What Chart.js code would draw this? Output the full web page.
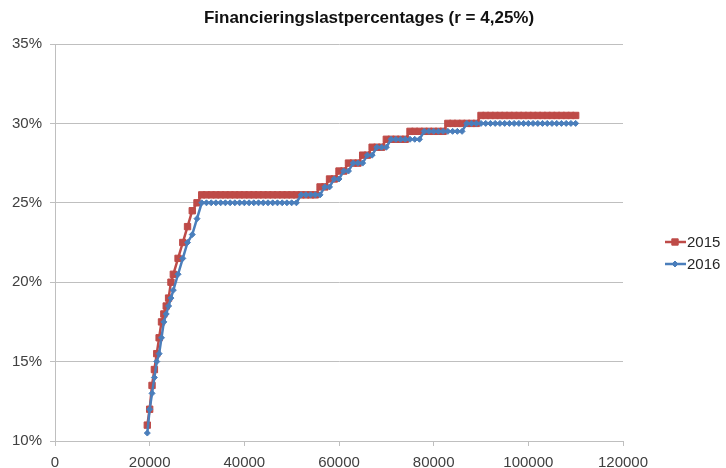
<!DOCTYPE html>
<html>
<head>
<meta charset="utf-8">
<script src="https://cdn.jsdelivr.net/npm/chart.js@4/dist/chart.umd.min.js"></script>
<style>
  html, body { margin: 0; padding: 0; background: #fff; }
  #wrap { width: 726px; height: 468px; }
</style>
</head>
<body>
<div id="wrap"><canvas id="c" width="726" height="468"></canvas></div>
<script>
// ── Data ─────────────────────────────────────────────────────────────────────
const TITLE = 'Financieringslastpercentages (r = 4,25%)'

const incomes = [
  19500, 20000, 20500, 21000, 21500, 22000, 22500, 23000, 23500, 24000, 24500, 25000,
  26000, 27000, 28000, 29000, 30000, 31000, 32000, 33000, 34000, 35000, 36000, 37000,
  38000, 39000, 40000, 41000, 42000, 43000, 44000, 45000, 46000, 47000, 48000, 49000,
  50000, 51000, 52000, 53000, 54000, 55000, 56000, 57000, 58000, 59000, 60000, 61000,
  62000, 63000, 64000, 65000, 66000, 67000, 68000, 69000, 70000, 71000, 72000, 73000,
  74000, 75000, 76000, 77000, 78000, 79000, 80000, 81000, 82000, 83000, 84000, 85000,
  86000, 87000, 88000, 89000, 90000, 91000, 92000, 93000, 94000, 95000, 96000, 97000,
  98000, 99000, 100000, 101000, 102000, 103000, 104000, 105000, 106000, 107000, 108000,
  109000, 110000,
]

// 2015 (%)
const pct2015 = [
  11.0, 12.0, 13.5, 14.5, 15.5, 16.5, 17.5, 18.0, 18.5, 19.0, 20.0, 20.5,
  21.5, 22.5, 23.5, 24.5, 25.0, 25.5, 25.5, 25.5, 25.5, 25.5, 25.5, 25.5,
  25.5, 25.5, 25.5, 25.5, 25.5, 25.5, 25.5, 25.5, 25.5, 25.5, 25.5, 25.5,
  25.5, 25.5, 25.5, 25.5, 25.5, 25.5, 26.0, 26.0, 26.5, 26.5, 27.0, 27.0,
  27.5, 27.5, 27.5, 28.0, 28.0, 28.5, 28.5, 28.5, 29.0, 29.0, 29.0, 29.0,
  29.0, 29.5, 29.5, 29.5, 29.5, 29.5, 29.5, 29.5, 29.5, 30.0, 30.0, 30.0,
  30.0, 30.0, 30.0, 30.0, 30.5, 30.5, 30.5, 30.5, 30.5, 30.5, 30.5, 30.5,
  30.5, 30.5, 30.5, 30.5, 30.5, 30.5, 30.5, 30.5, 30.5, 30.5, 30.5,
  30.5, 30.5,
]

// 2016 (%)
const pct2016 = [
  10.5, 12.0, 13.0, 14.0, 15.0, 15.5, 16.5, 17.5, 18.0, 18.5, 19.0, 19.5,
  20.5, 21.5, 22.5, 23.0, 24.0, 25.0, 25.0, 25.0, 25.0, 25.0, 25.0, 25.0,
  25.0, 25.0, 25.0, 25.0, 25.0, 25.0, 25.0, 25.0, 25.0, 25.0, 25.0, 25.0,
  25.0, 25.0, 25.5, 25.5, 25.5, 25.5, 25.5, 26.0, 26.0, 26.5, 26.5, 27.0,
  27.0, 27.5, 27.5, 27.5, 28.0, 28.0, 28.5, 28.5, 28.5, 29.0, 29.0, 29.0,
  29.0, 29.0, 29.0, 29.0, 29.5, 29.5, 29.5, 29.5, 29.5, 29.5, 29.5, 29.5,
  29.5, 30.0, 30.0, 30.0, 30.0, 30.0, 30.0, 30.0, 30.0, 30.0, 30.0, 30.0,
  30.0, 30.0, 30.0, 30.0, 30.0, 30.0, 30.0, 30.0, 30.0, 30.0, 30.0,
  30.0, 30.0,
]

const xTicks = [0, 20000, 40000, 60000, 80000, 100000, 120000]
const yTicks = [10, 15, 20, 25, 30, 35]

// ── Style ────────────────────────────────────────────────────────────────────
const RED  = '#be4b48'
const BLUE = '#4a7ebb'
const GRID = '#bfbfbf'
const TEXT = '#404040'
const FONT = "'Liberation Sans', Arial, sans-serif"

Chart.defaults.font.family = FONT
Chart.defaults.font.size   = 15
Chart.defaults.color       = TEXT

const series = [
  { label: '2015', values: pct2015, color: RED,  style: 'rect',    radius: 4.5, order: 1 },
  { label: '2016', values: pct2016, color: BLUE, style: 'rectRot', radius: 3,   order: 0 },
]

// ── Title + legend drawn as text on the canvas ───────────────────────────────
const titleAndLegend = {
  id: 'titleAndLegend',
  afterDraw(chart) {
    const ctx = chart.ctx
    ctx.save()
    ctx.fillStyle = '#111'
    ctx.font = `bold 17px ${FONT}`
    ctx.textAlign = 'center'
    ctx.textBaseline = 'middle'
    ctx.fillText(TITLE, 369, 18)

    series.forEach((s, i) => {
      const y = 242 + i * 22
      ctx.strokeStyle = s.color
      ctx.fillStyle = s.color
      ctx.lineWidth = 2.5
      ctx.beginPath()
      ctx.moveTo(665, y)
      ctx.lineTo(686, y)
      ctx.stroke()
      ctx.lineWidth = 1
      Chart.helpers.drawPoint(ctx, {
        pointStyle: s.style, radius: s.radius, borderWidth: 1,
      }, 675, y)
      ctx.fillStyle = '#262626'
      ctx.font = `15px ${FONT}`
      ctx.textAlign = 'left'
      ctx.fillText(s.label, 687, y + 1)
    })
    ctx.restore()
  },
}

// ── Chart ────────────────────────────────────────────────────────────────────
new Chart(document.getElementById('c').getContext('2d'), {
  type: 'scatter',
  data: {
    datasets: series.map(s => ({
      label: s.label,
      data: incomes.map((x, i) => ({ x, y: s.values[i] })),
      showLine: true,
      borderColor: s.color,
      backgroundColor: s.color,
      borderWidth: 2.5,
      pointStyle: s.style,
      pointRadius: s.radius,
      pointBorderWidth: 1,
      pointBackgroundColor: s.color,
      pointBorderColor: s.color,
      tension: 0,
      order: s.order,
    })),
  },
  options: {
    responsive: false,
    animation: false,
    events: [],
    layout: { padding: { top: 44, right: 103, left: 0, bottom: 0 } },
    plugins: {
      legend: { display: false },
      title: { display: false },
      tooltip: { enabled: false },
    },
    scales: {
      x: {
        type: 'linear',
        min: xTicks[0],
        max: xTicks[xTicks.length - 1],
        afterBuildTicks: axis => { axis.ticks = xTicks.map(v => ({ value: v })) },
        afterFit: axis => { axis.height = 27 },
        grid: { drawOnChartArea: false, drawTicks: true, tickLength: 5, color: GRID },
        border: { color: GRID, width: 1 },
        ticks: { padding: 8, color: TEXT, maxRotation: 0, callback: v => String(v) },
      },
      y: {
        type: 'linear',
        min: yTicks[0],
        max: yTicks[yTicks.length - 1],
        afterBuildTicks: axis => { axis.ticks = yTicks.map(v => ({ value: v })) },
        afterFit: axis => { axis.width = 55 },
        grid: { drawTicks: true, tickLength: 5, color: GRID, lineWidth: 1 },
        border: { color: GRID, width: 1 },
        ticks: { padding: 8, color: TEXT, callback: v => v + '%' },
      },
    },
  },
  plugins: [titleAndLegend],
})
</script>
</body>
</html>
